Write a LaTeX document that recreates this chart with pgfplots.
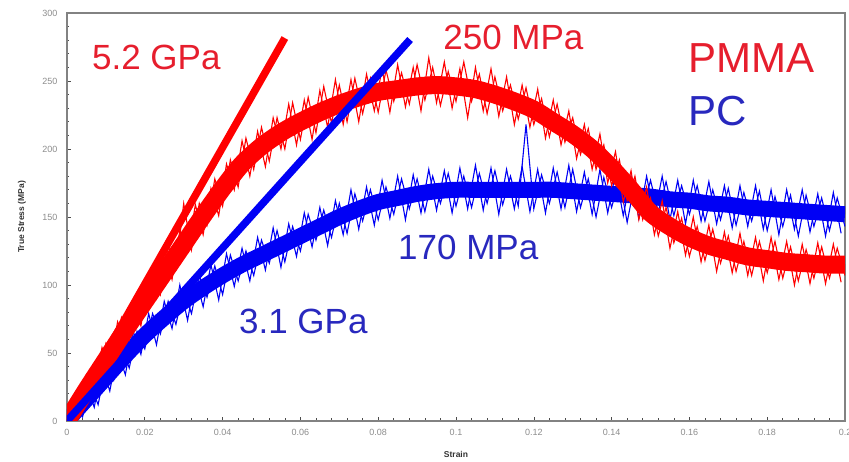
\documentclass[border=0pt]{standalone}
\usepackage{pgfplots}
\pgfplotsset{compat=1.18}
\usepackage{pgfplotstable}
\usepackage{fontspec}
\setmainfont{Liberation Sans}
\setsansfont{Liberation Sans}

\definecolor{pmma}{RGB}{255,0,0}
\definecolor{pc}{RGB}{0,0,245}
\definecolor{pmmatext}{RGB}{230,30,45}
\definecolor{pctext}{RGB}{40,40,190}
\definecolor{ticktext}{RGB}{140,140,140}
\definecolor{frame}{RGB}{130,130,130}

% mean curves (band core)
\pgfplotstableread{
x y
0.000 0
0.005 23
0.010 45
0.015 67
0.020 88
0.025 109
0.030 130
0.035 151
0.040 171
0.045 189
0.050 202
0.055 212
0.060 220
0.065 227
0.070 233
0.075 238
0.080 242
0.085 244
0.090 246
0.095 247
0.100 246
0.105 244
0.110 240
0.115 235
0.120 229
0.125 220
0.130 211
0.135 200
0.140 186
0.145 170
0.150 153
0.155 143
0.160 135
0.165 129
0.170 125
0.175 121
0.180 119
0.185 117
0.190 116
0.195 115
0.200 115
}\pmmamean

\pgfplotstableread{
x y
0.000 0
0.005 16
0.010 32
0.015 48
0.020 63
0.025 76
0.030 88
0.035 98
0.040 107
0.045 115
0.050 122
0.055 129
0.060 136
0.065 143
0.070 150
0.075 156
0.080 161
0.085 164
0.090 167
0.095 169
0.100 170
0.105 170
0.110 170
0.115 170
0.120 170
0.125 170
0.130 169
0.135 168
0.140 167
0.145 166
0.150 165
0.155 163
0.160 162
0.165 160
0.170 159
0.175 157
0.180 156
0.185 155
0.190 154
0.195 153
0.200 152
}\pcmean

% raw (noisy) readings, even and odd samples
\pgfplotstableread{
x y
0.000 0
0.002 18
0.004 10
0.006 38
0.008 27
0.010 57
0.012 44
0.014 76
0.016 60
0.018 92
0.020 78
0.022 110
0.024 93
0.026 129
0.028 112
0.030 160
0.032 126
0.034 160
0.036 144
0.038 178
0.040 158
0.042 192
0.044 172
0.046 208
0.048 185
0.050 216
0.052 191
0.054 223
0.056 200
0.058 234
0.060 207
0.062 238
0.064 212
0.066 246
0.068 219
0.070 247
0.072 220
0.074 252
0.076 226
0.078 252
0.080 227
0.082 258
0.084 235
0.086 256
0.088 233
0.090 262
0.092 236
0.094 260
0.096 232
0.098 257
0.100 235
0.102 264
0.104 235
0.106 255
0.108 226
0.110 253
0.112 228
0.114 247
0.116 222
0.118 245
0.120 218
0.122 237
0.124 209
0.126 233
0.128 205
0.130 223
0.132 196
0.134 215
0.136 185
0.138 203
0.140 173
0.142 192
0.144 162
0.146 180
0.148 148
0.150 164
0.152 136
0.154 157
0.156 131
0.158 149
0.160 121
0.162 143
0.164 118
0.166 141
0.168 116
0.170 136
0.172 110
0.174 132
0.176 107
0.178 132
0.180 109
0.182 132
0.184 105
0.186 128
0.188 103
0.190 126
0.192 105
0.194 128
0.196 105
0.198 127
0.200 107
}\pmmarawA

\pgfplotstableread{
x y
0.001 14
0.003 4
0.005 34
0.007 21
0.009 54
0.011 38
0.013 73
0.015 58
0.017 88
0.019 70
0.021 104
0.023 90
0.025 124
0.027 104
0.029 140
0.031 125
0.033 159
0.035 137
0.037 171
0.039 151
0.041 189
0.043 170
0.045 206
0.047 180
0.049 213
0.051 187
0.053 223
0.055 200
0.057 233
0.059 203
0.061 236
0.063 207
0.065 243
0.067 216
0.069 251
0.071 218
0.073 251
0.075 220
0.077 255
0.079 228
0.081 259
0.083 227
0.085 262
0.087 231
0.089 260
0.091 228
0.093 267
0.095 234
0.097 264
0.099 230
0.101 259
0.103 223
0.105 260
0.107 228
0.109 259
0.111 224
0.113 253
0.115 218
0.117 247
0.119 216
0.121 244
0.123 208
0.125 236
0.127 203
0.129 228
0.131 193
0.133 218
0.135 185
0.137 211
0.139 175
0.141 198
0.143 161
0.145 184
0.147 148
0.149 172
0.151 137
0.153 162
0.155 127
0.157 154
0.159 122
0.161 150
0.163 117
0.165 144
0.167 110
0.169 139
0.171 109
0.173 138
0.175 107
0.177 135
0.179 103
0.181 135
0.183 104
0.185 132
0.187 100
0.189 130
0.191 101
0.193 131
0.195 101
0.197 130
0.199 102
}\pmmarawB

\pgfplotstableread{
x y
0.000 0
0.002 13
0.004 3
0.006 27
0.008 12
0.010 41
0.012 30
0.014 55
0.016 39
0.018 66
0.020 53
0.022 79
0.024 64
0.026 88
0.028 71
0.030 97
0.032 79
0.034 107
0.036 91
0.038 114
0.040 93
0.042 122
0.044 103
0.046 125
0.048 107
0.050 133
0.052 116
0.054 140
0.056 117
0.058 143
0.060 125
0.062 152
0.064 133
0.066 155
0.068 135
0.070 160
0.072 138
0.074 167
0.076 147
0.078 170
0.080 148
0.082 172
0.084 152
0.086 178
0.088 156
0.090 178
0.092 154
0.094 180
0.096 160
0.098 182
0.100 158
0.102 180
0.104 157
0.106 182
0.108 160
0.110 184
0.112 159
0.114 180
0.116 158
0.118 218
0.120 156
0.122 181
0.124 160
0.126 183
0.128 157
0.130 185
0.132 157
0.134 178
0.136 150
0.138 179
0.140 157
0.142 178
0.144 146
0.146 176
0.148 154
0.150 177
0.152 154
0.154 176
0.156 151
0.158 173
0.160 152
0.162 173
0.164 147
0.166 170
0.168 148
0.170 171
0.172 144
0.174 168
0.176 147
0.178 169
0.180 140
0.182 165
0.184 143
0.186 166
0.188 136
0.190 166
0.192 143
0.194 164
0.196 140
0.198 164
0.200 143
}\pcrawA

\pgfplotstableread{
x y
0.001 12
0.003 2
0.005 27
0.007 10
0.009 41
0.011 22
0.013 52
0.015 34
0.017 66
0.019 49
0.021 79
0.023 56
0.025 88
0.027 68
0.029 100
0.031 74
0.033 106
0.035 84
0.037 115
0.039 89
0.041 123
0.043 99
0.045 127
0.047 103
0.049 135
0.051 111
0.053 142
0.055 113
0.057 145
0.059 121
0.061 153
0.063 128
0.065 157
0.067 129
0.069 162
0.071 137
0.073 170
0.075 141
0.077 172
0.079 144
0.081 177
0.083 149
0.085 180
0.087 148
0.089 181
0.091 153
0.093 185
0.095 155
0.097 184
0.099 153
0.101 186
0.103 156
0.105 188
0.107 155
0.109 186
0.111 152
0.113 185
0.115 156
0.117 187
0.119 154
0.121 185
0.123 153
0.125 186
0.127 156
0.129 188
0.131 154
0.133 183
0.135 152
0.137 185
0.139 153
0.141 182
0.143 151
0.145 180
0.147 149
0.149 180
0.151 151
0.153 180
0.155 148
0.157 177
0.159 145
0.161 177
0.163 147
0.165 176
0.167 145
0.169 173
0.171 142
0.173 173
0.175 143
0.177 173
0.179 141
0.181 170
0.183 137
0.185 170
0.187 141
0.189 170
0.191 139
0.193 167
0.195 136
0.197 168
0.199 138
}\pcrawB

\begin{document}
\begin{tikzpicture}
\begin{axis}[
  scale only axis,
  width=778pt, height=408pt,
  xmin=0, xmax=0.2, ymin=0, ymax=300,
  xtick={0,0.02,...,0.2},
  xticklabels={0,0.02,0.04,0.06,0.08,0.1,0.12,0.14,0.16,0.18,0.2},
  ytick={0,50,...,300},
  minor x tick num=4,
  minor y tick num=4,
  xtick pos=bottom, ytick pos=left,
  tick align=inside,
  major tick length=4pt, minor tick length=2.5pt,
  tick style={black!70, line width=0.6pt},
  axis line style={frame, line width=1.2pt},
  ticklabel style={font=\fontsize{9}{10}\selectfont, text=ticktext},
  yticklabel style={xshift=-6pt},
  xticklabel style={yshift=-5pt},
  /pgf/number format/assume math mode=true,
  xlabel={Strain},
  ylabel={True Stress (MPa)},
  xlabel style={font=\bfseries\fontsize{8.5}{9}\selectfont, text=black!80,
    at={(axis description cs:0.5,-0.083)}, anchor=center},
  ylabel style={font=\bfseries\fontsize{8.5}{9}\selectfont, text=black!80,
    at={(axis description cs:-0.058,0.5)}, anchor=center},
]
% PC (blue)
\addplot[pc, line width=16pt, smooth, line join=round] table {\pcmean};
\addplot[pc, line width=1.1pt] table {\pcrawA};
\addplot[pc, line width=1.1pt] table {\pcrawB};
% PMMA (red)
\addplot[pmma, line width=18pt, smooth, line join=round] table {\pmmamean};
\addplot[pmma, line width=1.1pt] table {\pmmarawA};
\addplot[pmma, line width=1.1pt] table {\pmmarawB};
% moduli
\addplot[pmma, line width=7.5pt] coordinates {(0,0) (0.056,281.6)};
\addplot[pc, line width=7.5pt] coordinates {(0,0) (0.0882,280.5)};

\node[pmmatext, anchor=base west, inner sep=0, font=\fontsize{35}{40}\selectfont] at (axis cs:0.0064,258.1) {5.2 GPa};
\node[pmmatext, anchor=base west, inner sep=0, font=\fontsize{35}{40}\selectfont] at (axis cs:0.0967,273.5) {250 MPa};
\node[pmmatext, anchor=base west, inner sep=0, font=\fontsize{42}{46}\selectfont] at (axis cs:0.1596,255.9) {PMMA};
\node[pctext, anchor=base west, inner sep=0, font=\fontsize{42}{46}\selectfont] at (axis cs:0.1596,217.6) {PC};
\node[pctext, anchor=base west, inner sep=0, font=\fontsize{35}{40}\selectfont] at (axis cs:0.0851,118.4) {170 MPa};
\node[pctext, anchor=base west, inner sep=0, font=\fontsize{35}{40}\selectfont] at (axis cs:0.0442,64.7) {3.1 GPa};
\end{axis}
\pgfresetboundingbox
\path[use as bounding box] (-67pt,-41pt) rectangle (782pt,421pt);
\end{tikzpicture}
\end{document}
